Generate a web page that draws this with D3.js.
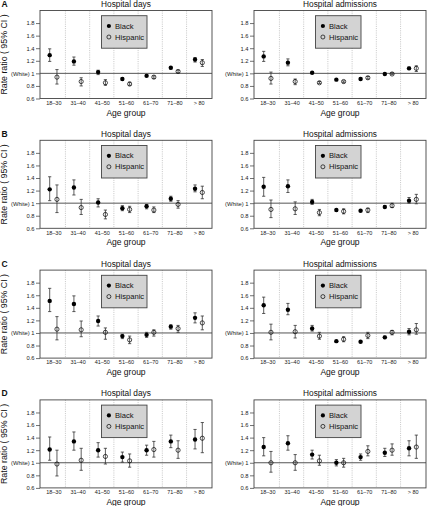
<!DOCTYPE html>
<html><head><meta charset="utf-8">
<script src="https://cdn.jsdelivr.net/npm/d3@7"></script>
<style>
body{margin:0;background:#fff;}
svg text{font-family:"Liberation Sans",Arial,Helvetica,sans-serif;}
</style></head>
<body><svg id="c" width="429" height="506"></svg>
<script>
// ---- data: [estimate, lower CI, upper CI] ----
const ageGroups = ["18–30","31–40","41–50","51–60","61–70","71–80","> 80"];
const yTickValues = [0.6,0.8,1.0,1.2,1.4,1.6,1.8];
const yTickLabels = ["0.6","0.8","(White) 1","1.2","1.4","1.6","1.8"];
const panelLetters = ["A","B","C","D"];
const measures = ["Hospital days","Hospital admissions"];
const seriesNames = ["Black","Hispanic"];

const aDaysBlack = [[1.29,1.19,1.39],[1.19,1.13,1.26],[1.02,0.98,1.05],[0.91,0.89,0.93],[0.96,0.95,0.98],[1.09,1.07,1.10],[1.22,1.18,1.25]];
const aDaysHisp  = [[0.94,0.83,1.06],[0.87,0.80,0.93],[0.85,0.81,0.90],[0.83,0.81,0.86],[0.94,0.92,0.96],[1.03,1.01,1.05],[1.17,1.11,1.22]];
const aAdmBlack  = [[1.27,1.19,1.35],[1.17,1.12,1.23],[1.01,1.00,1.02],[0.90,0.89,0.91],[0.91,0.90,0.93],[0.99,0.98,1.00],[1.08,1.06,1.10]];
const aAdmHisp   = [[0.92,0.83,1.02],[0.87,0.82,0.91],[0.85,0.84,0.87],[0.87,0.85,0.88],[0.93,0.91,0.95],[0.99,0.98,1.01],[1.08,1.03,1.12]];

const bDaysBlack = [[1.22,1.04,1.42],[1.25,1.13,1.37],[1.01,0.94,1.07],[0.92,0.88,0.96],[0.95,0.91,0.98],[1.07,1.03,1.11],[1.23,1.18,1.29]];
const bDaysHisp  = [[1.06,0.85,1.29],[0.93,0.82,1.06],[0.82,0.75,0.89],[0.90,0.85,0.95],[0.89,0.85,0.94],[0.98,0.92,1.04],[1.17,1.07,1.27]];
const bAdmBlack  = [[1.26,1.11,1.41],[1.27,1.17,1.37],[1.02,0.98,1.06],[0.89,0.87,0.90],[0.88,0.87,0.89],[0.94,0.93,0.96],[1.04,1.00,1.09]];
const bAdmHisp   = [[0.90,0.77,1.05],[0.91,0.82,1.02],[0.85,0.80,0.90],[0.87,0.83,0.91],[0.89,0.85,0.92],[0.96,0.93,1.00],[1.06,0.99,1.14]];

const cDaysBlack = [[1.51,1.34,1.71],[1.46,1.34,1.59],[1.19,1.11,1.27],[0.95,0.91,0.98],[0.97,0.93,1.01],[1.10,1.06,1.13],[1.24,1.16,1.32]];
const cDaysHisp  = [[1.06,0.89,1.26],[1.05,0.94,1.19],[1.01,0.90,1.08],[0.89,0.83,0.95],[1.01,0.95,1.05],[1.07,1.01,1.12],[1.16,1.05,1.27]];
const cAdmBlack  = [[1.44,1.31,1.57],[1.37,1.29,1.47],[1.07,1.03,1.12],[0.87,0.85,0.88],[0.86,0.85,0.87],[0.93,0.91,0.95],[1.02,0.97,1.07]];
const cAdmHisp   = [[1.01,0.89,1.14],[1.02,0.92,1.12],[0.95,0.90,1.01],[0.90,0.86,0.94],[0.96,0.91,1.01],[1.01,0.97,1.04],[1.05,0.98,1.15]];

const dDaysBlack = [[1.21,1.04,1.41],[1.34,1.20,1.49],[1.20,1.09,1.32],[1.09,1.01,1.17],[1.20,1.12,1.28],[1.34,1.24,1.44],[1.37,1.22,1.53]];
const dDaysHisp  = [[0.98,0.79,1.20],[1.04,0.88,1.23],[1.10,0.98,1.23],[1.03,0.93,1.14],[1.21,1.09,1.34],[1.20,1.07,1.35],[1.39,1.16,1.64]];
const dAdmBlack  = [[1.25,1.11,1.40],[1.31,1.20,1.43],[1.13,1.06,1.20],[1.00,0.95,1.05],[1.09,1.04,1.14],[1.16,1.10,1.23],[1.23,1.11,1.35]];
const dAdmHisp   = [[1.00,0.85,1.18],[1.00,0.88,1.13],[1.03,0.96,1.12],[1.00,0.93,1.07],[1.18,1.11,1.27],[1.20,1.12,1.30],[1.25,1.07,1.44]];

const panels = [
  [[aDaysBlack,aDaysHisp],[aAdmBlack,aAdmHisp]],
  [[bDaysBlack,bDaysHisp],[bAdmBlack,bAdmHisp]],
  [[cDaysBlack,cDaysHisp],[cAdmBlack,cAdmHisp]],
  [[dDaysBlack,dDaysHisp],[dAdmBlack,dAdmHisp]]
];

// ---- layout ----
const svg = d3.select("#c");
const plotW = 172, plotH = 88;
const colLeft = [40, 254];
const rowTop = i => 10.5 + 129.8*i;
const dark = "#333";

panels.forEach((row, ri) => {
  const top = rowTop(ri);
  svg.append("text").attr("x",1.5).attr("y",top-3.6)
    .attr("font-size",8.5).attr("font-weight","bold").attr("fill","#111").text(panelLetters[ri]);

  row.forEach((pair, ci) => {
    const left = colLeft[ci];
    const g = svg.append("g").attr("transform",`translate(${left},${top})`);
    const x = d3.scaleLinear().domain([0.45, 7.55]).range([0, plotW]);
    const y = d3.scaleLinear().domain([0.6, 2.0]).range([plotH, 0]);

    // dotted group separators
    g.selectAll("line.sep").data(d3.range(1,7)).join("line")
      .attr("x1",d=>x(d+0.5)).attr("x2",d=>x(d+0.5))
      .attr("y1",0).attr("y2",plotH)
      .attr("stroke","#b8b8b8").attr("stroke-width",0.8).attr("stroke-dasharray","1,1.2");

    // reference line at 1
    g.append("line").attr("x1",0).attr("x2",plotW).attr("y1",y(1)).attr("y2",y(1))
      .attr("stroke","#555").attr("stroke-width",1);

    // y axis
    const ya = g.append("g").call(d3.axisLeft(y).tickValues(yTickValues)
      .tickFormat((d,i)=>yTickLabels[i]).tickSize(4).tickPadding(1.5));
    ya.select(".domain").remove();
    ya.selectAll("line").attr("stroke",dark).attr("stroke-width",0.7);
    ya.selectAll("text").attr("font-size",5.8).attr("fill","#222")
      .attr("font-family","Liberation Sans, Arial, sans-serif");

    // x axis labels
    const xa = g.append("g").attr("transform",`translate(0,${plotH})`)
      .call(d3.axisBottom(x).tickValues(d3.range(1,8)).tickFormat(d=>ageGroups[d-1]).tickSize(0).tickPadding(2.5));
    xa.select(".domain").remove();
    xa.selectAll("text").attr("font-size",5.5).attr("fill","#222")
      .attr("font-family","Liberation Sans, Arial, sans-serif");

    // plot box
    g.append("rect").attr("x",0).attr("y",0).attr("width",plotW).attr("height",plotH)
      .attr("fill","none").attr("stroke","#444").attr("stroke-width",0.9);

    // legend
    const lg = g.append("g").attr("transform",`translate(${61.5},${5.2})`);
    lg.append("rect").attr("width",45.5).attr("height",32.5)
      .attr("fill","#d3d3d3").attr("stroke","#444").attr("stroke-width",0.9);
    seriesNames.forEach((s,k)=>{
      const cy = 10.3 + k*11;
      lg.append("circle").attr("cx",7.4).attr("cy",cy).attr("r",k===0?2.1:2.0)
        .attr("fill",k===0?"#000":"none").attr("stroke","#000").attr("stroke-width",k===0?0:0.7);
      lg.append("text").attr("x",13.5).attr("y",cy).attr("dy","0.35em")
        .attr("font-size",7.6).attr("fill","#111").text(s);
    });

    // series
    const offs = [-0.15, 0.15];
    pair.forEach((data,k)=>{
      const sg = g.append("g");
      const px = i => x(i+1+offs[k]);
      sg.selectAll("line.bar").data(data).join("line")
        .attr("x1",(d,i)=>px(i)).attr("x2",(d,i)=>px(i))
        .attr("y1",d=>y(d[1])).attr("y2",d=>y(d[2]))
        .attr("stroke",dark).attr("stroke-width",0.8);
      [1,2].forEach(j=>{
        sg.selectAll("line.cap"+j).data(data).join("line")
          .attr("x1",(d,i)=>px(i)-1.6).attr("x2",(d,i)=>px(i)+1.6)
          .attr("y1",d=>y(d[j])).attr("y2",d=>y(d[j]))
          .attr("stroke",dark).attr("stroke-width",0.8);
      });
      sg.selectAll("circle").data(data).join("circle")
        .attr("cx",(d,i)=>px(i)).attr("cy",d=>y(d[0]))
        .attr("r",k===0?2.2:2.1)
        .attr("fill",k===0?"#000":"none").attr("stroke","#000").attr("stroke-width",k===0?0:0.7);
    });

    // title
    g.append("text").attr("x",plotW/2).attr("y",-3.6).attr("text-anchor","middle")
      .attr("font-size",8.3).attr("fill","#111").text(measures[ci]);
    // x label
    g.append("text").attr("x",plotW/2).attr("y",plotH+17).attr("text-anchor","middle")
      .attr("font-size",8.5).attr("fill","#111").text("Age group");
    // y label (left column only)
    if (ci===0) {
      g.append("text").attr("transform",`translate(${-33},${plotH/2}) rotate(-90)`)
        .attr("text-anchor","middle").attr("font-size",8.8).attr("fill","#111")
        .text("Rate ratio ( 95% CI )");
    }
  });
});
</script></body></html>
